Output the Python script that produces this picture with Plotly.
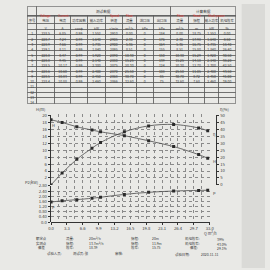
import plotly.graph_objects as go

# ---------------- data ----------------
row_no = [str(i) for i in range(1, 15)]
voltage = ["228.5", "228.7", "228.9", "229.1", "228.8", "228.8", "228.5", "228.6", "228.5", "228.4"]
current = ["6.85", "7.24", "7.66", "8.11", "8.47", "9.45", "10.17", "10.60", "10.83", "10.88"]
pf = ["0.99"] * 10
p_in = ["1.552", "1.640", "1.735", "1.840", "1.920", "2.140", "2.300", "2.400", "2.450", "2.460"]
speed = ["2910", "2905", "2900", "2895", "2890", "2880", "2875", "2870", "2868", "2866"]
p_inlet = ["0"] * 10
p_outlet = ["184", "176", "164", "155", "150", "139", "124", "108", "85", "75"]

flow = [0.00, 2.30, 5.36, 8.51, 10.30, 15.25, 20.30, 25.50, 30.70, 32.60]
head = [18.75, 17.98, 16.75, 15.80, 15.29, 14.18, 12.70, 11.05, 8.72, 7.68]
power = [1.552, 1.640, 1.735, 1.840, 1.920, 2.140, 2.300, 2.400, 2.450, 2.460]
eff = [0.00, 8.50, 18.40, 26.40, 30.50, 38.20, 42.50, 43.50, 41.00, 39.00]

x_ticks = [0.0, 3.3, 6.6, 9.9, 13.2, 16.5, 19.8, 23.1, 26.4, 29.7, 33.0]
h_ticks = [2, 4, 6, 8, 10, 12, 14, 16, 18, 20]
p_ticks = [0.0, 0.4, 0.8, 1.2, 1.6, 2.0, 2.4, 2.8]

headers = ["序号", "电压", "电流", "功率因数", "输入功率", "转速", "流量", "进口压", "出口压",
           "流量", "扬程", "输入功率", "机组效率"]
red_labels = ["", "Voltage", "Current", "", "", "Speed", "Flow", "", "", "Flow", "Head",
              "Shaft power", ""]
units = ["", "V", "A", "cosφ", "kW", "r/min", "m³/h", "kPa", "kPa", "m³/h", "m", "kW", "%"]
col_w = [10, 18, 17, 17, 19, 17, 15, 17, 18, 19, 16, 15, 17]
groups = ["", "测试数据", "计算数据"]

RED = "#e0403a"
INK = "#3a3a3a"
LINE = "#5a5a5a"
FONT = "Noto Sans CJK SC"
clear = "rgba(0,0,0,0)"

columns = [row_no, voltage, current, pf, p_in, speed,
           [f"{v:.2f}" for v in flow], p_inlet, p_outlet,
           [f"{v:.2f}" for v in flow], [f"{v:.2f}" for v in head],
           [f"{v:.3f}" for v in power], [f"{v:.2f}" for v in eff]]
cells = []
for i, col in enumerate(columns):
    c = list(col) + [""] * (14 - len(col))
    cells.append([units[i]] + c)

W = 270.0
fig = go.Figure()

tx0, tx1 = 25 / W, 240 / W
group_w = [col_w[0], sum(col_w[1:9]), sum(col_w[9:])]
TOP, GROUP_H, HEAD_H, ROW_H = 3, 9, 8, 5.3
TEXT_LIFT = 4.2   # plotly puts cell text below the cell top; lift the text layer


def table(top_px, widths, hvals, hh, cvals, ch, text, hsize, csize):
    top_px = max(0.0, top_px)
    lc = dict(color=clear if text else LINE, width=0 if text else 0.6)
    fc = INK if text else clear
    return go.Table(
        domain=dict(x=[tx0, tx1], y=[0, min(1.0, 1 - top_px / W)]),
        columnwidth=widths,
        header=dict(values=hvals, height=hh, line=lc, fill=dict(color=clear),
                    font=dict(size=hsize, color=fc, family=FONT), align="center"),
        cells=dict(values=cvals, height=ch, line=lc, fill=dict(color=clear),
                   font=dict(size=csize, color=fc, family=FONT), align="center"),
    )


blank_cells = [[""] * len(c) for c in cells]
# grid lines
fig.add_trace(table(TOP, group_w, ["", "", ""], GROUP_H, [[""], [""], [""]], 0.5,
                    False, 3.6, 1))
fig.add_trace(table(TOP + GROUP_H, col_w, [""] * len(col_w), HEAD_H, blank_cells, ROW_H,
                    False, 3.4, 3.4))
# text layer
fig.add_trace(table(TOP + GROUP_H - TEXT_LIFT, col_w, headers, HEAD_H, cells, ROW_H,
                    True, 3.4, 3.4))

mk = dict(symbol="square", size=3, color="#2a2a2a")
ln = dict(color="#4a4a4a", width=0.8, shape="spline")
fig.add_trace(go.Scatter(x=flow, y=head, mode="lines+markers", marker=mk, line=ln,
                         xaxis="x", yaxis="y", showlegend=False))
fig.add_trace(go.Scatter(x=flow, y=eff, mode="lines+markers", marker=mk, line=ln,
                         xaxis="x", yaxis="y2", showlegend=False))
fig.add_trace(go.Scatter(x=flow, y=power, mode="lines+markers", marker=mk, line=ln,
                         xaxis="x", yaxis="y3", showlegend=False))
# background grid holder
fig.add_trace(go.Scatter(x=[None], y=[None], xaxis="x2", yaxis="y4", showlegend=False))

tf = dict(size=4.2, color=INK, family=FONT)
xd = [49.5 / W, 213 / W]
grid = dict(showgrid=True, griddash="dot", gridcolor="#8a8a8a", gridwidth=0.5)
fig.update_layout(
    width=270, height=270, margin=dict(l=0, r=0, t=0, b=0),
    paper_bgcolor="#e9e9e6", plot_bgcolor=clear,
    font=dict(family=FONT, color=INK),
    xaxis=dict(domain=xd, range=[0, 33], anchor="y3", tickvals=x_ticks,
               ticktext=[f"{v:.1f}" for v in x_ticks], tickfont=tf, ticks="outside",
               ticklen=2, tickcolor="#333", showline=True, linecolor="#333", linewidth=0.8,
               showgrid=False, zeroline=False),
    xaxis2=dict(domain=xd, range=[0, 33], anchor="y4", dtick=1.65, tick0=0,
                showticklabels=False, ticks="", zeroline=False, **grid),
    yaxis4=dict(domain=[1 - 223 / W, 1 - 112 / W], range=[0, 1], anchor="x2",
                showgrid=False, showticklabels=False, zeroline=False, ticks=""),
    yaxis=dict(domain=[1 - 185 / W, 1 - 114 / W], range=[0, 20], tickvals=h_ticks,
               anchor="free", position=48 / W, tickfont=tf, ticks="outside", ticklen=2,
               tickcolor="#333", showline=True, linecolor="#333", linewidth=0.8,
               zeroline=False, **grid),
    yaxis2=dict(overlaying="y", side="right", anchor="free", position=220 / W,
                range=[0, 50], dtick=5, tickfont=tf, ticks="outside", ticklen=2,
                tickcolor="#333", showline=True, linecolor="#333", linewidth=0.8,
                showgrid=False, zeroline=False),
    yaxis3=dict(domain=[1 - 223 / W, 1 - 186 / W], range=[0, 2.8], tickvals=p_ticks,
                ticktext=["0.0"] + [f"{v:.2f}" for v in p_ticks[1:]],
                anchor="free", position=48 / W, tickfont=tf, ticks="outside", ticklen=2,
                tickcolor="#333", showline=True, linecolor="#333", linewidth=0.8,
                zeroline=False, **grid),
)

ann = []


def txt(x, y, s, size=3.4, xanchor="left", color=INK):
    ann.append(dict(x=x / W, y=1 - y / W, xref="paper", yref="paper", text=s,
                    showarrow=False, xanchor=xanchor, yanchor="middle",
                    font=dict(size=size, color=color, family=FONT)))


# group header labels, centred over their column spans
tot = float(sum(col_w))
acc = 0.0
for g, gw in zip(groups, group_w):
    if g:
        cx = tx0 + (acc + gw / 2) / tot * (tx1 - tx0)
        ann.append(dict(x=cx, y=1 - (TOP + GROUP_H / 2) / W, xref="paper", yref="paper",
                        text=g, showarrow=False, xanchor="center", yanchor="middle",
                        font=dict(size=3.6, color=INK, family=FONT)))
    acc += gw

# red handwritten labels over header cells
red_shift = {"Shaft power": 4}
acc = 0.0
for i, lbl in enumerate(red_labels):
    if lbl:
        cx = tx0 + (acc + col_w[i] / 2) / tot * (tx1 - tx0)
        ann.append(dict(x=cx, y=1 - 12.2 / W, xref="paper", yref="paper", text=lbl,
                        showarrow=False, xanchor="center", yanchor="middle",
                        xshift=red_shift.get(lbl, 0),
                        font=dict(size=3.1, color=RED, family="Liberation Sans")))
    acc += col_w[i]

txt(45, 107.5, "H(m)", size=4, xanchor="right")
txt(38, 182, "P2(kW)", size=4, xanchor="right")
txt(222, 107.5, "η(%)", size=4)
txt(205, 234.5, "Q m³/h", size=3.8)

lab = dict(showarrow=False, font=dict(size=4, color=INK, family=FONT), xanchor="left")
ann.append(dict(x=flow[-1], y=head[-1], xref="x", yref="y", text="H", xshift=3, yshift=-3, **lab))
ann.append(dict(x=flow[-1], y=eff[-1], xref="x", yref="y2", text="η", xshift=3, yshift=-3, **lab))
ann.append(dict(x=flow[-1], y=power[-1], xref="x", yref="y3", text="P", xshift=3, yshift=-3, **lab))
ann.append(dict(x=flow[0], y=head[0], xref="x", yref="y", text="H", xshift=-1, yshift=-5, **lab))
ann.append(dict(x=flow[0], y=power[0], xref="x", yref="y3", text="P", xshift=-1, yshift=-5, **lab))

# footer
txt(32, 239.5, "额定点")
txt(32, 244.5, "实测点")
txt(34, 249.5, "偏差")
txt(63, 239.5, "流量:")
txt(63, 244.5, "扬程:")
txt(63, 249.5, "效率:")
txt(87, 239.5, "20m³/h")
txt(87, 244.5, "13.7m³/h")
txt(87, 249.5, "18.39")
txt(130, 239.5, "扬程:")
txt(130, 244.5, "扬程:")
txt(130, 249.5, "效率:")
txt(152, 239.5, "20m")
txt(152, 244.5, "11.9m")
txt(152, 249.5, "15.75")
txt(185, 239.5, "机组效率:")
txt(185, 244.5, "机组效率:")
txt(191, 249.5, "偏差:")
txt(218, 240.5, "39%")
txt(218, 245.5, "43.0%")
txt(218, 250.5, "29.1%")
txt(43, 255.5, "试验人员:")
txt(70, 255.5, "测试员: 张")
txt(113, 255.5, "审核:")
txt(175, 256.5, "试验日期:")
txt(202, 256.5, "2020-11-11")

fig.update_layout(annotations=ann,
                  shapes=[dict(type="rect", xref="paper", yref="paper", x0=246 / W, x1=1,
                               y0=0, y1=1, fillcolor="#dadad7", line=dict(width=0),
                               layer="below")])

fig.write_html("out.html")
